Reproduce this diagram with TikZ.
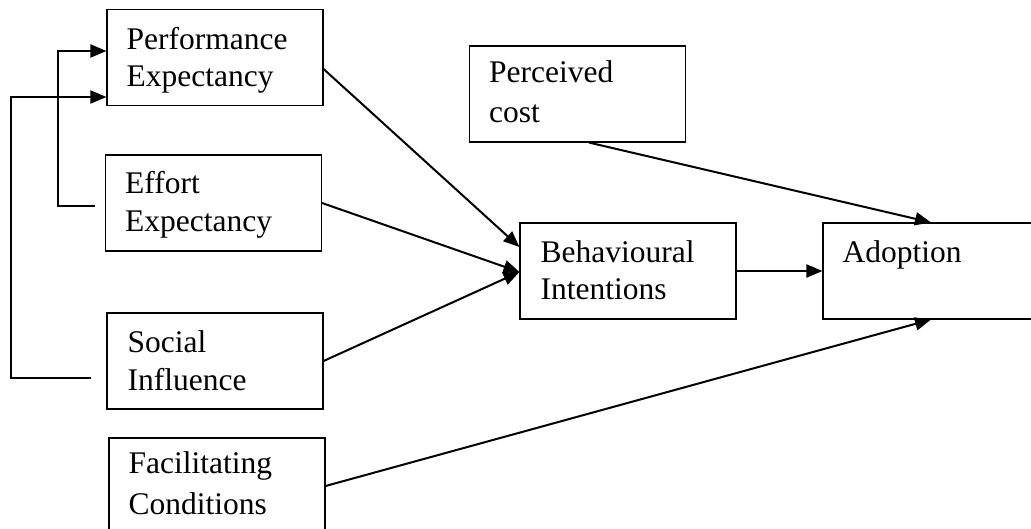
\documentclass[tikz,border=0pt]{standalone}
\usepackage{fontspec}
\setmainfont{Liberation Serif}
\usetikzlibrary{arrows.meta,calc}

\tikzset{
  box/.style={draw, line width=1.1pt, minimum width=216pt, minimum height=96pt,
              inner sep=0pt, anchor=center},
  lbl/.style={anchor=base west, inner sep=0pt, align=left,
              font=\fontsize{31.5}{37.5}\selectfont},
  link/.style={line width=2pt, -{Triangle[length=16pt,width=13pt]}},
}

\begin{document}
\begin{tikzpicture}[x=1pt, y=-1pt]
  \useasboundingbox (0,0) rectangle (1031,528);

  % construct boxes
  \node[box] (pe) at (215,57.5)  {};
  \node[box] (ee) at (213.5,203) {};
  \node[box] (si) at (215,361)   {};
  \node[box] (fc) at (217,486)   {};
  \node[box] (pc) at (577.5,94)  {};
  \node[box] (bi) at (628,271)   {};
  \node[box] (ad) at (931,271)   {};

  % box labels
  \node[lbl] (pe-t) at ([shift={(20pt,-41pt)}]pe.north west) {Performance};
  \node[lbl] (pe-u) at ([shift={(20pt,-78pt)}]pe.north west) {Expectancy};
  \node[lbl] (ee-t) at ([shift={(20pt,-39pt)}]ee.north west) {Effort};
  \node[lbl] (ee-u) at ([shift={(20pt,-77pt)}]ee.north west) {Expectancy};
  \node[lbl] (si-t) at ([shift={(21pt,-40pt)}]si.north west) {Social};
  \node[lbl] (si-u) at ([shift={(21pt,-78pt)}]si.north west) {Influence};
  \node[lbl] (fc-t) at ([shift={(20pt,-36pt)}]fc.north west) {Facilitating};
  \node[lbl] (fc-u) at ([shift={(20pt,-77pt)}]fc.north west) {Conditions};
  \node[lbl] (pc-t) at ([shift={(20pt,-37pt)}]pc.north west) {Perceived};
  \node[lbl] (pc-u) at ([shift={(20pt,-77pt)}]pc.north west) {cost};
  \node[lbl] (bi-t) at ([shift={(21pt,-40pt)}]bi.north west) {Behavioural};
  \node[lbl] (bi-u) at ([shift={(21pt,-77pt)}]bi.north west) {Intentions};
  \node[lbl] (ad-t) at ([shift={(20pt,-40pt)}]ad.north west) {Adoption};

  % feedback loops into Performance Expectancy
  \coordinate (ee-out) at ([shift={(-10pt,-3pt)}]ee.west);
  \coordinate (ee-in)  at ([yshift=6.5pt]pe.west);
  \draw[link] (ee-out) -- ++(-37,0) |- (ee-in);

  \coordinate (si-out) at ([shift={(-15pt,-17pt)}]si.west);
  \coordinate (si-in)  at ([yshift=-39.5pt]pe.west);
  \draw[link] (si-out) -- ++(-80,0) |- (si-in);

  % paths into Behavioural Intentions
  \draw[link] ([yshift=-11.5pt]pe.east) -- ([yshift=24pt]bi.west);
  \draw[link] (ee.east) -- ([yshift=-1pt]bi.west);
  \draw[link] (si.east) -- ([yshift=-1pt]bi.west);

  % paths into Adoption
  \draw[link] (bi.east) -- (ad.west);
  \draw[link] ([xshift=11.5pt]pc.south) -- (ad.north);
  \draw[link] (fc.east) -- (ad.south);
\end{tikzpicture}
\end{document}
